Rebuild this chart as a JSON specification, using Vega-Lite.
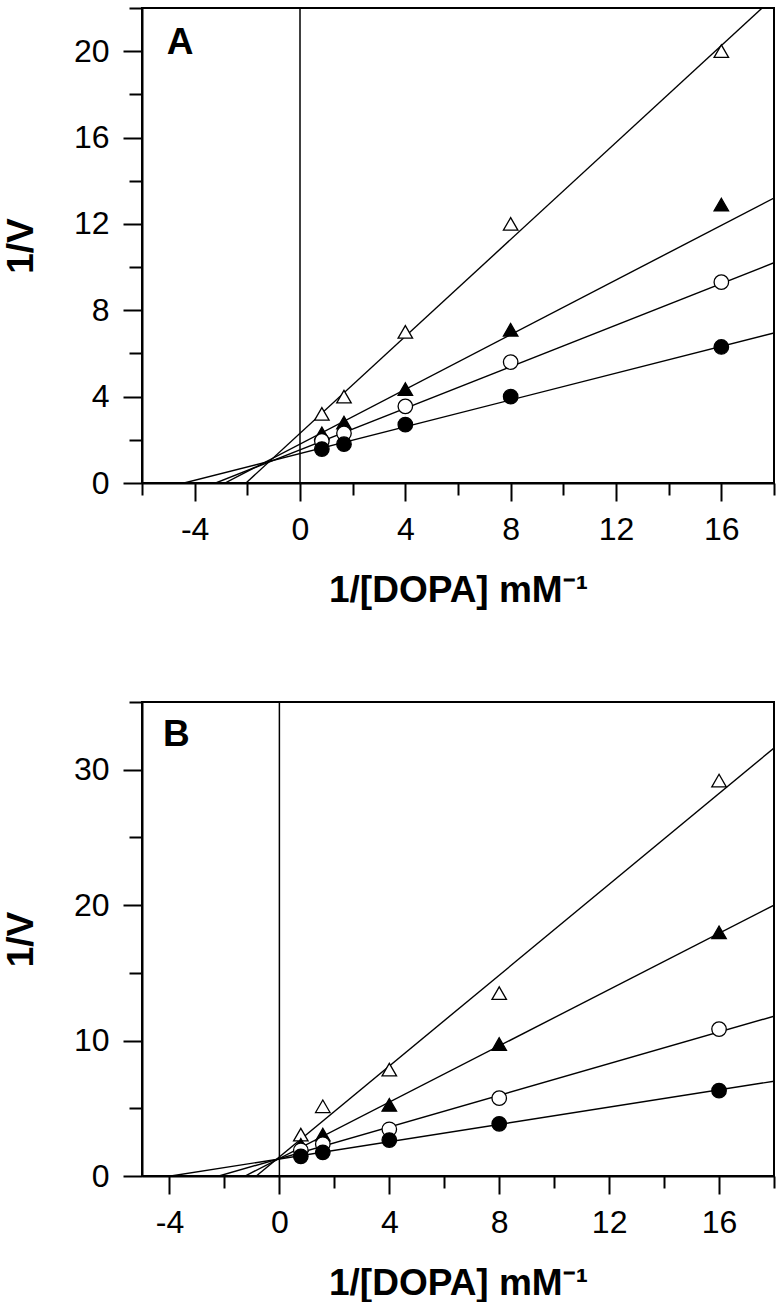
{
  "$schema": "https://vega.github.io/schema/vega-lite/v6.json",
  "background": "white",
  "padding": {"left": 1, "top": 6, "right": 2, "bottom": 0},
  "spacing": 91,
  "config": {
    "font": "Liberation Sans",
    "view": {"stroke": "black", "strokeWidth": 2},
    "axis": {
      "grid": false,
      "domainColor": "black",
      "domainWidth": 2,
      "tickColor": "black",
      "tickWidth": 2,
      "labelFont": "Liberation Sans",
      "labelFontSize": 32,
      "labelColor": "black",
      "labelFlush": false,
      "labelOverlap": false,
      "titleFont": "Liberation Sans",
      "titleFontSize": 37,
      "titleFontWeight": "bold",
      "titleColor": "black"
    }
  },
  "datasets": {
    "A_pts": [
      {"s": "ot", "x": 0.83, "y": 3.2}, {"s": "ot", "x": 1.67, "y": 4.0}, {"s": "ot", "x": 4, "y": 7.0}, {"s": "ot", "x": 8, "y": 12.0}, {"s": "ot", "x": 16, "y": 20.0},
      {"s": "ft", "x": 0.83, "y": 2.3}, {"s": "ft", "x": 1.67, "y": 2.8}, {"s": "ft", "x": 4, "y": 4.35}, {"s": "ft", "x": 8, "y": 7.1}, {"s": "ft", "x": 16, "y": 12.9},
      {"s": "oc", "x": 0.83, "y": 1.95}, {"s": "oc", "x": 1.67, "y": 2.3}, {"s": "oc", "x": 4, "y": 3.55}, {"s": "oc", "x": 8, "y": 5.6}, {"s": "oc", "x": 16, "y": 9.3},
      {"s": "fc", "x": 0.83, "y": 1.57}, {"s": "fc", "x": 1.67, "y": 1.8}, {"s": "fc", "x": 4, "y": 2.7}, {"s": "fc", "x": 8, "y": 4.0}, {"s": "fc", "x": 16, "y": 6.3}
    ],
    "A_lines": [
      {"s": "ot", "x": -2.05, "y": 0}, {"s": "ot", "x": 17.55, "y": 22},
      {"s": "ft", "x": -2.85, "y": 0}, {"s": "ft", "x": 18, "y": 13.2},
      {"s": "oc", "x": -3.2, "y": 0}, {"s": "oc", "x": 18, "y": 10.2},
      {"s": "fc", "x": -4.4, "y": 0}, {"s": "fc", "x": 18, "y": 6.95}
    ],
    "B_pts": [
      {"s": "ot", "x": 0.78, "y": 3.05}, {"s": "ot", "x": 1.58, "y": 5.15}, {"s": "ot", "x": 4, "y": 7.85}, {"s": "ot", "x": 8, "y": 13.5}, {"s": "ot", "x": 16, "y": 29.2},
      {"s": "ft", "x": 0.78, "y": 2.3}, {"s": "ft", "x": 1.58, "y": 3.05}, {"s": "ft", "x": 4, "y": 5.25}, {"s": "ft", "x": 8, "y": 9.75}, {"s": "ft", "x": 16, "y": 18.0},
      {"s": "oc", "x": 0.78, "y": 1.9}, {"s": "oc", "x": 1.58, "y": 2.35}, {"s": "oc", "x": 4, "y": 3.45}, {"s": "oc", "x": 8, "y": 5.75}, {"s": "oc", "x": 16, "y": 10.85},
      {"s": "fc", "x": 0.78, "y": 1.45}, {"s": "fc", "x": 1.58, "y": 1.75}, {"s": "fc", "x": 4, "y": 2.65}, {"s": "fc", "x": 8, "y": 3.85}, {"s": "fc", "x": 16, "y": 6.3}
    ],
    "B_lines": [
      {"s": "ot", "x": -0.84, "y": 0}, {"s": "ot", "x": 18, "y": 31.6},
      {"s": "ft", "x": -1.25, "y": 0}, {"s": "ft", "x": 18, "y": 20.0},
      {"s": "oc", "x": -2.2, "y": 0}, {"s": "oc", "x": 18, "y": 11.8},
      {"s": "fc", "x": -3.95, "y": 0}, {"s": "fc", "x": 18, "y": 7.0}
    ],
    "A_lab": [{"label": "A", "x": -4.55, "y": 20.4}],
    "B_lab": [{"label": "B", "x": -3.75, "y": 32.6}],
    "zero": [{"x": 0}]
  },
  "vconcat": [
    {
      "width": 632,
      "height": 475,
      "layer": [
        {
          "data": {"name": "zero"},
          "mark": {"type": "rule", "color": "black", "strokeWidth": 1.5},
          "encoding": {
            "x": {"field": "x", "type": "quantitative", "scale": {"domain": [-6, 18], "nice": false, "zero": false}}
          }
        },
        {
          "data": {"name": "A_lines"},
          "mark": {"type": "line", "color": "black", "strokeWidth": 1.4, "clip": true},
          "encoding": {
            "x": {"field": "x", "type": "quantitative", "scale": {"domain": [-6, 18], "nice": false, "zero": false},
              "axis": {"values": [-6, -4, -2, 0, 2, 4, 6, 8, 10, 12, 14, 16, 18], "labelExpr": "datum.value % 4 === 0 && datum.value > -6 && datum.value < 18 ? '' + datum.value : ''",
                "labelFontSize": {"condition": {"test": "datum.value % 4 === 0 && datum.value > -6 && datum.value < 18", "value": 32}, "value": 0},
                "tickSize": {"condition": {"test": "datum.value % 4 === 0", "value": 18}, "value": 12}, "labelPadding": 13,
                "title": "1/[DOPA] mM⁻¹", "titlePadding": 27}},
            "y": {"field": "y", "type": "quantitative", "scale": {"domain": [0, 22], "nice": false, "zero": false},
              "axis": {"values": [0, 2, 4, 6, 8, 10, 12, 14, 16, 18, 20, 22], "labelExpr": "datum.value % 4 === 0 ? '' + datum.value : ''",
                "labelFontSize": {"condition": {"test": "datum.value % 4 === 0", "value": 32}, "value": 0},
                "tickSize": {"condition": {"test": "datum.value % 4 === 0", "value": 19}, "value": 13}, "labelPadding": 14,
                "title": "1/V", "titlePadding": 33}},
            "detail": {"field": "s"}
          }
        },
        {
          "data": {"name": "A_pts"},
          "mark": {"type": "point", "stroke": "black", "strokeWidth": 1.3, "opacity": 1, "fillOpacity": 1},
          "encoding": {
            "x": {"field": "x", "type": "quantitative", "scale": {"domain": [-6, 18], "nice": false, "zero": false}},
            "y": {"field": "y", "type": "quantitative", "scale": {"domain": [0, 22], "nice": false, "zero": false}},
            "shape": {"field": "s", "scale": {"domain": ["fc", "oc", "ft", "ot"], "range": ["circle", "circle", "triangle-up", "triangle-up"]}, "legend": null},
            "fill": {"field": "s", "scale": {"domain": ["fc", "oc", "ft", "ot"], "range": ["black", "white", "black", "white"]}, "legend": null},
            "size": {"field": "s", "type": "nominal", "scale": {"domain": ["fc", "oc", "ft", "ot"], "range": [210, 210, 380, 380]}, "legend": null}
          }
        },
        {
          "data": {"name": "A_lab"},
          "mark": {"type": "text", "fontSize": 37, "fontWeight": "bold", "font": "Liberation Sans", "color": "black", "align": "center", "baseline": "middle"},
          "encoding": {
            "x": {"field": "x", "type": "quantitative", "scale": {"domain": [-6, 18], "nice": false, "zero": false}},
            "y": {"field": "y", "type": "quantitative", "scale": {"domain": [0, 22], "nice": false, "zero": false}},
            "text": {"field": "label"}
          }
        }
      ]
    },
    {
      "width": 632,
      "height": 474,
      "layer": [
        {
          "data": {"name": "zero"},
          "mark": {"type": "rule", "color": "black", "strokeWidth": 1.5},
          "encoding": {
            "x": {"field": "x", "type": "quantitative", "scale": {"domain": [-5, 18], "nice": false, "zero": false}}
          }
        },
        {
          "data": {"name": "B_lines"},
          "mark": {"type": "line", "color": "black", "strokeWidth": 1.4, "clip": true},
          "encoding": {
            "x": {"field": "x", "type": "quantitative", "scale": {"domain": [-5, 18], "nice": false, "zero": false},
              "axis": {"values": [-4, -2, 0, 2, 4, 6, 8, 10, 12, 14, 16, 18], "labelExpr": "datum.value % 4 === 0 && datum.value < 18 ? '' + datum.value : ''",
                "labelFontSize": {"condition": {"test": "datum.value % 4 === 0 && datum.value < 18", "value": 32}, "value": 0},
                "tickSize": {"condition": {"test": "datum.value % 4 === 0", "value": 18}, "value": 12}, "labelPadding": 13,
                "title": "1/[DOPA] mM⁻¹", "titlePadding": 27}},
            "y": {"field": "y", "type": "quantitative", "scale": {"domain": [0, 35], "nice": false, "zero": false},
              "axis": {"values": [0, 5, 10, 15, 20, 25, 30, 35], "labelExpr": "datum.value % 10 === 0 ? '' + datum.value : ''",
                "labelFontSize": {"condition": {"test": "datum.value % 10 === 0", "value": 32}, "value": 0},
                "tickSize": {"condition": {"test": "datum.value % 10 === 0", "value": 19}, "value": 13}, "labelPadding": 14,
                "title": "1/V", "titlePadding": 33}},
            "detail": {"field": "s"}
          }
        },
        {
          "data": {"name": "B_pts"},
          "mark": {"type": "point", "stroke": "black", "strokeWidth": 1.3, "opacity": 1, "fillOpacity": 1},
          "encoding": {
            "x": {"field": "x", "type": "quantitative", "scale": {"domain": [-5, 18], "nice": false, "zero": false}},
            "y": {"field": "y", "type": "quantitative", "scale": {"domain": [0, 35], "nice": false, "zero": false}},
            "shape": {"field": "s", "scale": {"domain": ["fc", "oc", "ft", "ot"], "range": ["circle", "circle", "triangle-up", "triangle-up"]}, "legend": null},
            "fill": {"field": "s", "scale": {"domain": ["fc", "oc", "ft", "ot"], "range": ["black", "white", "black", "white"]}, "legend": null},
            "size": {"field": "s", "type": "nominal", "scale": {"domain": ["fc", "oc", "ft", "ot"], "range": [210, 210, 380, 380]}, "legend": null}
          }
        },
        {
          "data": {"name": "B_lab"},
          "mark": {"type": "text", "fontSize": 37, "fontWeight": "bold", "font": "Liberation Sans", "color": "black", "align": "center", "baseline": "middle"},
          "encoding": {
            "x": {"field": "x", "type": "quantitative", "scale": {"domain": [-5, 18], "nice": false, "zero": false}},
            "y": {"field": "y", "type": "quantitative", "scale": {"domain": [0, 35], "nice": false, "zero": false}},
            "text": {"field": "label"}
          }
        }
      ]
    }
  ]
}
